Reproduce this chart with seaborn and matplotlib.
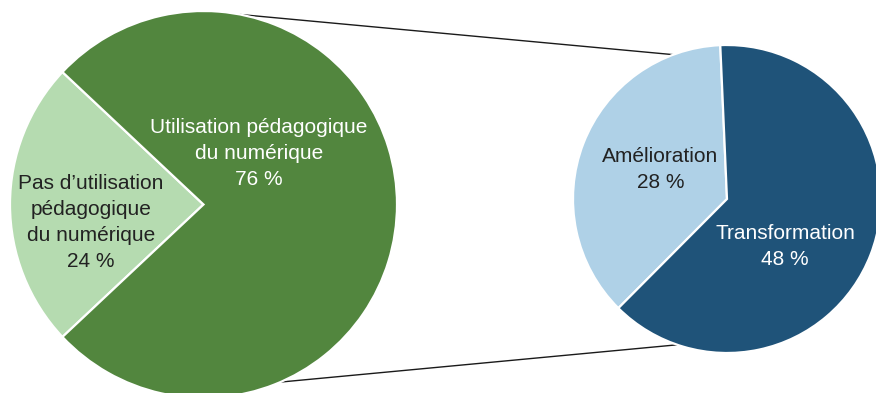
import numpy as np
import matplotlib
matplotlib.use("Agg")
import matplotlib.pyplot as plt
from matplotlib.patches import ConnectionPatch
import seaborn as sns

# Main split: use vs. no pedagogical use of digital tools
main_labels = ["Pas d\u2019utilisation\npédagogique\ndu numérique", "Utilisation pédagogique\ndu numérique"]
main_values = [24, 76]
main_colors = ["#B5DBB0", "#52863E"]
main_text_colors = ["#222222", "#FFFFFF"]

# Breakdown of the pedagogical use
detail_labels = ["Amélioration", "Transformation"]
detail_values = [28, 48]
detail_colors = ["#AFD1E7", "#1F5379"]
detail_text_colors = ["#222222", "#FFFFFF"]

sns.set_theme(style="white")
plt.rcParams["font.family"] = ["Liberation Sans", "DejaVu Sans"]

W, H = 876, 393
fig = plt.figure(figsize=(W / 100, H / 100), dpi=100)

# Left pie: centre (203.5, 204.5) px, radius 193.5 px
cx1, cy1, r1 = 203.5, 204.5, 193.5
ax1 = fig.add_axes([(cx1 - r1) / W, (H - cy1 - r1) / H, 2 * r1 / W, 2 * r1 / H])
# Right pie: centre (727, 199) px, radius 154 px
cx2, cy2, r2 = 727, 199, 154
ax2 = fig.add_axes([(cx2 - r2) / W, (H - cy2 - r2) / H, 2 * r2 / W, 2 * r2 / H])

wedge_kw = dict(edgecolor="white", linewidth=1.6)

# light wedge centred on the left side
start1 = 180 - main_values[0] / sum(main_values) * 360 / 2
ax1.pie(main_values, colors=main_colors, startangle=start1, counterclock=True,
        radius=1, wedgeprops=wedge_kw)
ax2.pie(detail_values, colors=detail_colors, startangle=92.5, counterclock=True,
        radius=1, wedgeprops=wedge_kw)

for ax in (ax1, ax2):
    ax.set_xlim(-1, 1)
    ax.set_ylim(-1, 1)
    ax.set_aspect("equal")
    ax.axis("off")

fs = 15
ls = 1.47
main_pos = [(-0.581, -0.095), (0.287, 0.262)]
for lab, val, col, (x, y) in zip(main_labels, main_values, main_text_colors, main_pos):
    ax1.text(x, y, f"{lab}\n{val} %", ha="center", va="center", color=col,
             fontsize=fs, linespacing=ls)

detail_pos = [(-0.432, 0.19), (0.377, -0.31)]
for lab, val, col, (x, y) in zip(detail_labels, detail_values, detail_text_colors, detail_pos):
    ax2.text(x, y, f"{lab}\n{val} %", ha="center", va="center", color=col,
             fontsize=fs, linespacing=ls)

# Connector lines between the two pies
def on_circle(deg):
    t = np.deg2rad(deg)
    return (np.cos(t), np.sin(t))

for a_left, a_right in [(79.1, 110.4), (-66.6, -108.8)]:
    con = ConnectionPatch(xyA=on_circle(a_left), coordsA=ax1.transData,
                          xyB=on_circle(a_right), coordsB=ax2.transData,
                          color="#1a1a1a", linewidth=1.0)
    fig.add_artist(con)
    con.set_zorder(0)

fig.savefig("out.png", dpi=100, facecolor="white")
